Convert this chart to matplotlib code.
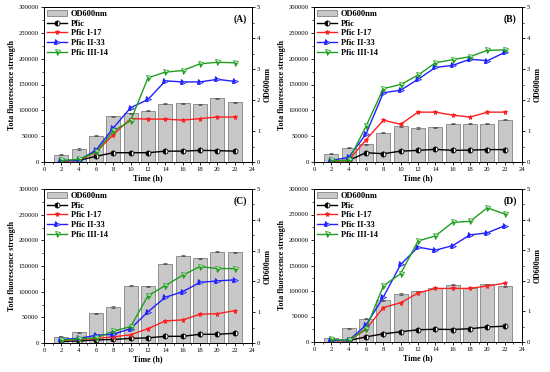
import matplotlib
matplotlib.use("Agg")
import matplotlib.pyplot as plt
import numpy as np

plt.rcParams['font.family'] = ['Liberation Serif', 'DejaVu Serif']

time_h = [2, 4, 6, 8, 10, 12, 14, 16, 18, 20, 22]
series_names = ["Pfic", "Pfic I-17", "Pfic II-33", "Pfic III-14"]
panel_labels = ["(A)", "(B)", "(C)", "(D)"]

# Panel A
od_A = [0.24, 0.42, 0.85, 1.47, 1.57, 1.66, 1.88, 1.89, 1.86, 2.06, 1.92]
pfic_A = [2000, 3000, 11000, 18000, 18000, 18000, 21000, 21000, 22500, 22000, 21000]
i17_A = [2000, 3000, 19000, 53000, 84000, 83000, 83000, 81000, 84000, 87000, 87000]
ii33_A = [3000, 3000, 23000, 66000, 105000, 121000, 157000, 155000, 155000, 160000, 156000]
iii14_A = [3000, 5000, 19000, 60000, 80000, 163000, 174000, 177000, 190000, 193000, 192000]

# Panel B
od_B = [0.27, 0.46, 0.57, 0.94, 1.16, 1.10, 1.12, 1.23, 1.23, 1.24, 1.37]
pfic_B = [2000, 3000, 18000, 16000, 21000, 22500, 24500, 22500, 23000, 24000, 24000]
i17_B = [2000, 3000, 43000, 81000, 73000, 96500, 96500, 90700, 87000, 96500, 96500]
ii33_B = [3000, 9000, 54000, 134000, 139000, 160000, 183000, 187000, 199000, 196000, 212000]
iii14_B = [3000, 3000, 69000, 142000, 150000, 168000, 192000, 198000, 204000, 216000, 217000]

# Panel C
od_C = [0.21, 0.35, 0.96, 1.17, 1.86, 1.84, 2.58, 2.84, 2.75, 2.97, 2.94]
pfic_C = [3000, 4000, 6000, 7000, 9000, 10000, 13000, 13000, 17000, 17000, 19000]
i17_C = [5000, 7000, 9000, 12000, 16000, 28000, 43000, 45000, 56000, 57000, 63000]
ii33_C = [7000, 9000, 15000, 17000, 28000, 61000, 89000, 100000, 118000, 121000, 123000]
iii14_C = [5000, 8000, 10000, 23000, 32000, 92000, 112000, 132000, 149000, 145000, 145000]

# Panel D
od_D = [0.14, 0.45, 0.76, 1.36, 1.57, 1.66, 1.78, 1.87, 1.78, 1.88, 1.82]
pfic_D = [3000, 3000, 10000, 16000, 20000, 24000, 25000, 24500, 26000, 29500, 31000]
i17_D = [3000, 2000, 25000, 67500, 77000, 96000, 105000, 105000, 105000, 110000, 115000]
ii33_D = [3000, 3000, 33000, 88000, 152000, 186000, 180000, 189000, 210000, 214000, 228000]
iii14_D = [5000, 3000, 26000, 110000, 134000, 198000, 208000, 234500, 236500, 263000, 251000]

panels = [
    (od_A, [pfic_A, i17_A, ii33_A, iii14_A]),
    (od_B, [pfic_B, i17_B, ii33_B, iii14_B]),
    (od_C, [pfic_C, i17_C, ii33_C, iii14_C]),
    (od_D, [pfic_D, i17_D, ii33_D, iii14_D]),
]

colors = ["black", "#ff2020", "#1f1fff", "#1f9f1f"]
markers = ["o", "*", ">", "v"]
fills = ["left", "full", "left", "bottom"]

rects = [
    (44, 7, 252, 162),
    (314, 7, 522, 162),
    (44, 189, 252, 343),
    (314, 189, 522, 342),
]
W, H = 550, 372

fig = plt.figure(figsize=(5.5, 3.72), dpi=100)
fs_tick = 4.8
fs_lab = 5.8
fs_leg = 6.0

for (od, lines), lab, (l, t, r, b) in zip(panels, panel_labels, rects):
    ax = fig.add_axes([l / W, 1 - b / H, (r - l) / W, (b - t) / H])
    ax2 = ax.twinx()
    ax.set_zorder(ax2.get_zorder() + 1)
    ax.patch.set_visible(False)
    bars = ax2.bar(time_h, od, width=1.65, color="#c8c8c8", edgecolor="#6e6e6e",
                   linewidth=0.5, yerr=[0.02] * len(od),
                   error_kw=dict(ecolor="#444444", elinewidth=0.5, capsize=1.5, capthick=0.5),
                   label="OD600nm")
    ax2.set_ylim(0, 5)
    ax2.set_yticks([0, 1, 2, 3, 4, 5])
    ax2.set_yticks(np.arange(0, 5.01, 0.5), minor=True)
    handles = [bars]
    for vals, name, c, m, fsty in zip(lines, series_names, colors, markers, fills):
        h, = ax.plot(time_h, vals, color=c, marker=m, markersize=3.6, linewidth=1.0,
                     fillstyle=fsty, markerfacecoloralt="white", markeredgewidth=0.6,
                     label=name)
        handles.append(h)
    ax.set_xlim(0, 24)
    ax.set_ylim(0, 300000)
    ax.set_xticks(range(0, 25, 2))
    ax.set_xticks(range(0, 25, 1), minor=True)
    ax.set_yticks(range(0, 300001, 50000))
    ax.set_yticks(range(0, 300001, 25000), minor=True)
    for a in (ax, ax2):
        a.tick_params(axis="both", which="major", direction="out", length=2.2, width=0.6,
                      labelsize=fs_tick, pad=1.5)
        a.tick_params(axis="both", which="minor", direction="out", length=1.2, width=0.5)
        for s in a.spines.values():
            s.set_linewidth(0.7)
    ax.set_xlabel("Time (h)", fontsize=fs_lab, fontweight="bold", labelpad=1.5)
    ax.set_ylabel("Tota fluorescence strength", fontsize=fs_lab, fontweight="bold", labelpad=2)
    ax2.set_ylabel("OD600nm", fontsize=fs_lab, fontweight="bold", labelpad=2)
    ax.text(0.975, 0.95, lab, transform=ax.transAxes, ha="right", va="top",
            fontsize=7, fontweight="bold")
    ax.legend(handles=handles, labels=["OD600nm"] + series_names, loc="upper left",
              frameon=False, prop=dict(weight="bold", size=fs_leg),
              labelspacing=0.2, handlelength=2.4, handletextpad=0.5,
              borderaxespad=0.15, borderpad=0.2)

fig.savefig("out.png", dpi=100)
